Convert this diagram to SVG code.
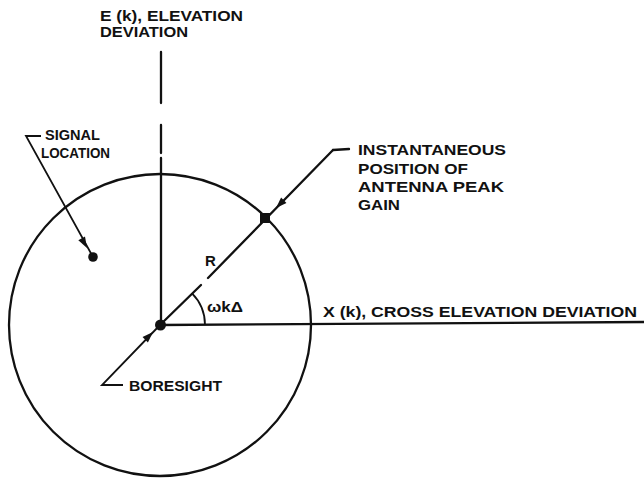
<svg xmlns="http://www.w3.org/2000/svg" xmlns:xlink="http://www.w3.org/1999/xlink" width="644" height="483" viewBox="0 0 644 483">
<style>
.ln{stroke:#111;stroke-width:2.3;fill:none;stroke-linecap:round}
.th{stroke:#111;stroke-width:1.8;fill:none}
.lbl{font-family:"Liberation Sans",Arial,sans-serif;font-weight:bold;font-size:15px;fill:#111}
.dot{fill:#111}
</style>
<defs>
<path id="ah" d="M0,0 L-11,-3.8 L-11,3.8 Z" fill="#111"/>
</defs>
<rect width="644" height="483" fill="#fff"/>
<g id="circle"><circle cx="160" cy="325" r="151" class="ln"/></g>
<g id="connectors">
<line x1="161" y1="52" x2="161" y2="103" class="ln"/>
<line x1="161" y1="125" x2="161" y2="153" class="ln"/>
<line x1="161" y1="158" x2="161" y2="325" class="ln"/>
<line x1="160" y1="325" x2="644" y2="322" class="ln"/>
<polyline points="123,385 102,385 160,325" class="th"/>
<line x1="160" y1="325" x2="201" y2="285" class="ln"/>
<line x1="208" y1="278" x2="333" y2="150" class="ln"/>
<line x1="333" y1="150" x2="349" y2="149" class="ln"/>
<polyline points="41,136 26,136 93,257" class="th"/>
<path d="M191.8,293.2 A45,45 0 0 1 205,325" class="th"/>
<use xlink:href="#ah" transform="translate(153,332) rotate(-45)"/>
<use xlink:href="#ah" transform="translate(276,208) rotate(135)"/>
<use xlink:href="#ah" transform="translate(87,248) rotate(61)"/>
</g>
<g id="boresight"><circle cx="160.5" cy="325" r="5.5" class="dot"/>
<text class="lbl" x="129" y="391" textLength="93" lengthAdjust="spacingAndGlyphs">BORESIGHT</text></g>
<g id="signal"><circle cx="93" cy="257" r="4.8" class="dot"/>
<text class="lbl" x="45" y="140" textLength="55" lengthAdjust="spacingAndGlyphs">SIGNAL</text>
<text class="lbl" x="41" y="158" textLength="69" lengthAdjust="spacingAndGlyphs">LOCATION</text></g>
<g id="peak"><rect x="260" y="213" width="10" height="10" class="dot"/>
<text class="lbl" x="358" y="155" textLength="148" lengthAdjust="spacingAndGlyphs">INSTANTANEOUS</text>
<text class="lbl" x="358" y="174" textLength="110" lengthAdjust="spacingAndGlyphs">POSITION OF</text>
<text class="lbl" x="358" y="192" textLength="146" lengthAdjust="spacingAndGlyphs">ANTENNA PEAK</text>
<text class="lbl" x="358" y="210" textLength="42" lengthAdjust="spacingAndGlyphs">GAIN</text></g>
<g id="elevation-label">
<text class="lbl" x="100" y="21" textLength="143" lengthAdjust="spacingAndGlyphs">E (k), ELEVATION</text>
<text class="lbl" x="100" y="37" textLength="88" lengthAdjust="spacingAndGlyphs">DEVIATION</text></g>
<g id="cross-label">
<text class="lbl" x="323" y="317" textLength="314" lengthAdjust="spacingAndGlyphs">X (k), CROSS ELEVATION DEVIATION</text></g>
<g id="radius-label"><text class="lbl" x="205" y="266" font-size="13">R</text></g>
<g id="angle-label"><text class="lbl" x="207" y="312" textLength="36" lengthAdjust="spacingAndGlyphs">ωkΔ</text></g>
</svg>
